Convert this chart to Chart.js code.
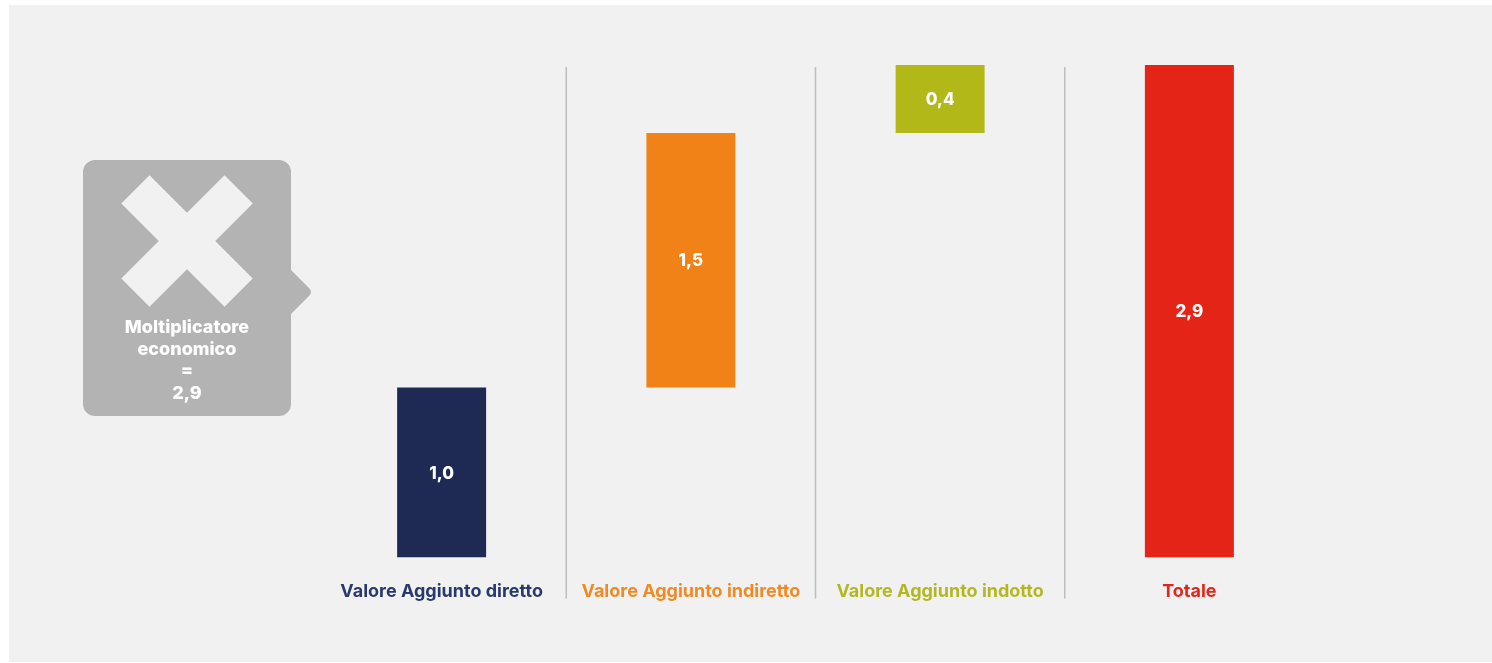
<!DOCTYPE html>
<html>
<head>
<meta charset="utf-8">
<script src="https://cdn.jsdelivr.net/npm/chart.js@4.4.1/dist/chart.umd.min.js"></script>
<style>
  html, body { margin: 0; padding: 0; background: #ffffff; }
  #wrap { width: 1492px; height: 663px; position: relative; }
</style>
</head>
<body>
<div id="wrap"><canvas id="waterfall-chart"></canvas></div>
<script>
// categories and contributions
var categories = ["Valore Aggiunto diretto", "Valore Aggiunto indiretto", "Valore Aggiunto indotto", "Totale"];
var contributions = [1.0, 1.5, 0.4];
var totalValue = 2.9;
var multiplier = 2.9;

var barColors = ["#1f2a54", "#f08217", "#b2b817", "#e32416"];
var labelColors = ["#283a6c", "#f08a24", "#b3b820", "#e3261a"];

// floating bars: each step starts where the previous one ended, total starts from 0
var floating = [];
var running = 0;
contributions.forEach(function (v) {
  floating.push([running, +(running + v).toFixed(1)]);
  running += v;
});
floating.push([0, totalValue]);
var shownValues = contributions.concat([totalValue]);

function fmt(v) {
  return v.toFixed(1).replace(".", ",");
}

var FONT = "Inter";

// panel background
var backgroundPlugin = {
  id: "panelBackground",
  beforeDraw: function (chart) {
    var c = chart.ctx;
    c.save();
    c.fillStyle = "#ffffff";
    c.fillRect(0, 0, chart.width, chart.height);
    c.fillStyle = "#f1f1f1";
    c.fillRect(9, 5, chart.width - 9, chart.height - 6);
    c.restore();
  }
};

// vertical separators between categories
var separatorPlugin = {
  id: "separators",
  beforeDatasetsDraw: function (chart) {
    var x = chart.scales.x;
    var c = chart.ctx;
    c.save();
    c.strokeStyle = "#bdbdbd";
    c.lineWidth = 1.5;
    for (var i = 0; i < categories.length - 1; i++) {
      var px = (x.getPixelForValue(i) + x.getPixelForValue(i + 1)) / 2;
      c.beginPath();
      c.moveTo(px, chart.chartArea.top + 2);
      c.lineTo(px, chart.chartArea.bottom + 41);
      c.stroke();
    }
    c.restore();
  }
};

// white value labels centred in each bar
var valueLabelPlugin = {
  id: "valueLabels",
  afterDatasetsDraw: function (chart) {
    var meta = chart.getDatasetMeta(0);
    var c = chart.ctx;
    c.save();
    c.fillStyle = "#ffffff";
    c.font = "800 17px " + FONT;
    c.textAlign = "center";
    c.textBaseline = "middle";
    meta.data.forEach(function (bar, i) {
      c.fillText(fmt(shownValues[i]), bar.x, (bar.y + bar.base) / 2 + 1);
    });
    c.restore();
  }
};

// grey callout with the multiplier
var calloutPlugin = {
  id: "callout",
  afterDraw: function (chart) {
    var c = chart.ctx;
    var x0 = 83, y0 = 160, w = 208, h = 256, r = 12;
    c.save();
    c.fillStyle = "#b3b3b3";
    c.beginPath();
    c.moveTo(x0 + r, y0);
    c.lineTo(x0 + w - r, y0);
    c.arcTo(x0 + w, y0, x0 + w, y0 + r, r);
    c.lineTo(x0 + w, 270);
    c.lineTo(x0 + w + 18, 288);
    c.quadraticCurveTo(x0 + w + 22, 292, x0 + w + 18, 296);
    c.lineTo(x0 + w, 314);
    c.lineTo(x0 + w, y0 + h - r);
    c.arcTo(x0 + w, y0 + h, x0 + w - r, y0 + h, r);
    c.lineTo(x0 + r, y0 + h);
    c.arcTo(x0, y0 + h, x0, y0 + h - r, r);
    c.lineTo(x0, y0 + r);
    c.arcTo(x0, y0, x0 + r, y0, r);
    c.closePath();
    c.fill();

    // cross
    var cx = 187, cy = 241, half = 20, len = 73;
    c.fillStyle = "#f1f1f1";
    c.translate(cx, cy);
    c.rotate(Math.PI / 4);
    c.fillRect(-len, -half, 2 * len, 2 * half);
    c.fillRect(-half, -len, 2 * half, 2 * len);
    c.setTransform(1, 0, 0, 1, 0, 0);

    c.fillStyle = "#ffffff";
    c.font = "800 18px " + FONT;
    c.textAlign = "center";
    c.textBaseline = "middle";
    c.fillText("Moltiplicatore", cx, 328);
    c.fillText("economico", cx, 350);
    c.fillText("=", cx, 371);
    c.fillText(fmt(multiplier), cx, 394);
    c.restore();
  }
};

var ctx = document.getElementById("waterfall-chart").getContext("2d");

new Chart(ctx, {
  type: "bar",
  data: {
    labels: categories,
    datasets: [
      {
        data: floating,
        backgroundColor: barColors,
        borderWidth: 0,
        borderSkipped: false,
        categoryPercentage: 1.0,
        barPercentage: 0.357,
      },
    ],
  },
  options: {
    responsive: true,
    maintainAspectRatio: false,
    animation: false,
    layout: {
      padding: { left: 317, right: 178, top: 65, bottom: 38 },
    },
    plugins: {
      legend: { display: false },
      tooltip: { enabled: false },
    },
    scales: {
      y: {
        display: false,
        min: 0,
        max: totalValue,
      },
      x: {
        grid: { display: false, drawTicks: false },
        border: { display: false },
        ticks: {
          padding: 23,
          maxRotation: 0,
          autoSkip: false,
          color: function (context) {
            return labelColors[context.index];
          },
          font: {
            size: 18,
            family: FONT,
            weight: "bold",
          },
        },
      },
    },
  },
  plugins: [backgroundPlugin, separatorPlugin, valueLabelPlugin, calloutPlugin],
});
</script>
</body>
</html>
